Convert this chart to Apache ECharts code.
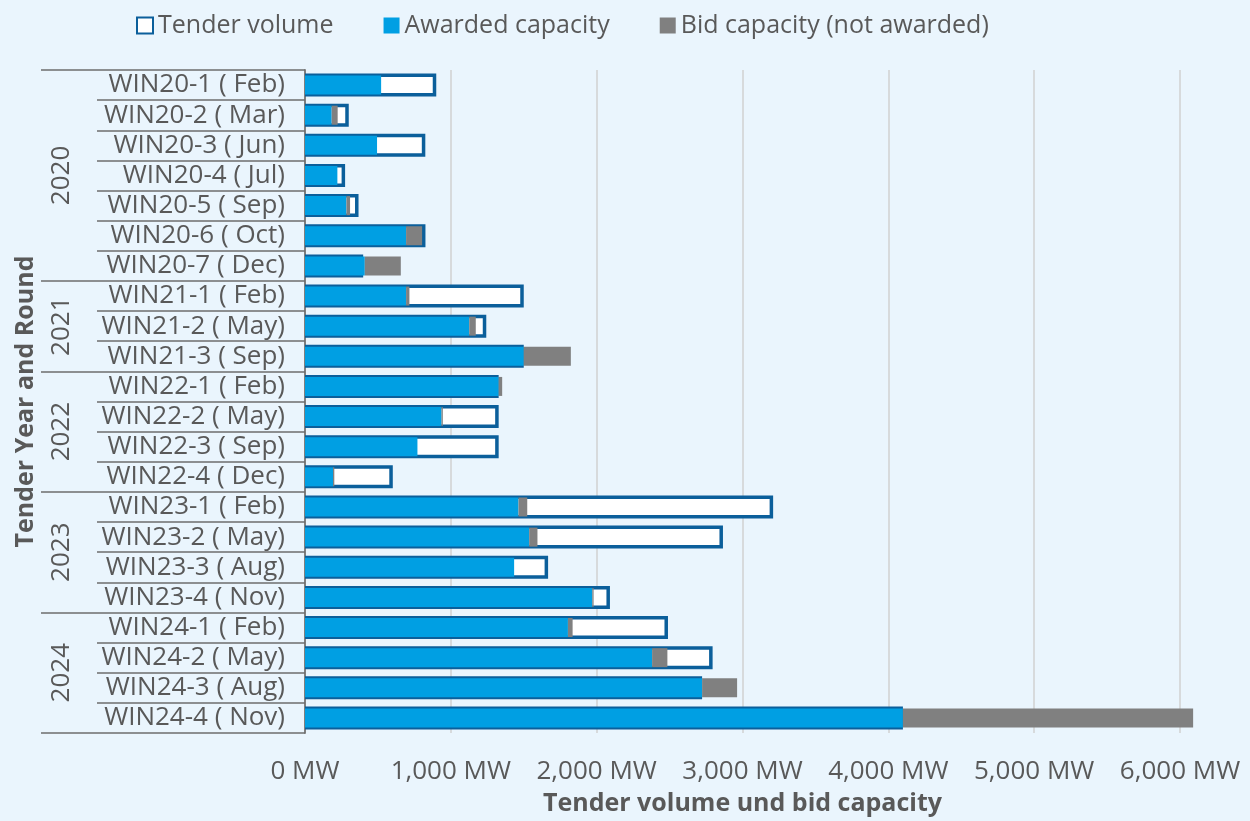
<!DOCTYPE html>
<html>
<head>
<meta charset="utf-8">
<script src="https://cdn.jsdelivr.net/npm/echarts@6/dist/echarts.min.js"></script>
<style>
  html, body { margin: 0; padding: 0; background: #eaf5fd; }
  #chart { width: 1250px; height: 821px; }
</style>
</head>
<body>
<div id="chart"></div>
<script>
// Wind onshore tender rounds, 2020-2024
const rounds = [
  'WIN20-1 ( Feb)', 'WIN20-2 ( Mar)', 'WIN20-3 ( Jun)', 'WIN20-4 ( Jul)', 'WIN20-5 ( Sep)',
  'WIN20-6 ( Oct)', 'WIN20-7 ( Dec)', 'WIN21-1 ( Feb)', 'WIN21-2 ( May)', 'WIN21-3 ( Sep)',
  'WIN22-1 ( Feb)', 'WIN22-2 ( May)', 'WIN22-3 ( Sep)', 'WIN22-4 ( Dec)', 'WIN23-1 ( Feb)',
  'WIN23-2 ( May)', 'WIN23-3 ( Aug)', 'WIN23-4 ( Nov)', 'WIN24-1 ( Feb)', 'WIN24-2 ( May)',
  'WIN24-3 ( Aug)', 'WIN24-4 ( Nov)'
];
// MW
const tenderVolume = [900, 300, 825, 275, 367, 826, 399, 1500, 1243, 1500, 1328, 1328, 1328, 602, 3210, 2866, 1667, 2091, 2489, 2795, 2723, 4100];
const awardedCapacity = [522, 183, 494, 222, 284, 693, 410, 693, 1126, 1500, 1328, 936, 771, 192, 1464, 1537, 1434, 1970, 1803, 2380, 2723, 4100];
const bidNotAwarded = [0, 41, 0, 0, 25, 110, 247, 23, 45, 323, 24, 9, 0, 9, 60, 57, 0, 9, 32, 105, 240, 1990];

// year groups on the category axis
const years = ['2020', '2021', '2022', '2023', '2024'];
const roundsPerYear = [7, 3, 4, 4, 4];

// x axis ticks
const xTicks = [0, 1000, 2000, 3000, 4000, 5000, 6000];

// derived: index where each year starts, and the middle of each year block
const groupStarts = [];
const yearCenters = {};
let acc = 0;
roundsPerYear.forEach((n, i) => {
  groupStarts.push(acc);
  yearCenters[(acc + n / 2).toFixed(1)] = years[i];
  acc += n;
});

const FONT = "'Open Sans', 'Noto Sans', sans-serif";
const TEXT = '#595959';
const BLUE = '#009fe3';
const DARK = '#0b5f9b';
const GREY = '#808080';
const TICK = '#6e6e6e';

const chart = echarts.init(document.getElementById('chart'), null, { renderer: 'canvas' });

chart.setOption({
  animation: false,
  backgroundColor: '#eaf5fd',
  textStyle: { fontFamily: FONT },
  legend: {
    left: 131,
    top: 8,
    itemWidth: 16,
    itemHeight: 16,
    itemGap: 50,
    icon: 'rect',
    textStyle: { fontSize: 25, color: TEXT, fontFamily: FONT },
    data: ['Tender volume', 'Awarded capacity', 'Bid capacity (not awarded)']
  },
  grid: { left: 305, right: 70, top: 70, bottom: 88 },
  xAxis: {
    type: 'value',
    min: xTicks[0],
    max: xTicks[xTicks.length - 1],
    interval: xTicks[1] - xTicks[0],
    axisLine: { show: false },
    axisTick: { show: false },
    splitLine: { show: true, lineStyle: { color: '#d0d0d0', width: 1.5 } },
    axisLabel: {
      fontSize: 26,
      color: TEXT,
      margin: 26,
      formatter: v => v.toLocaleString('en-US') + ' MW'
    },
    name: 'Tender volume und bid capacity',
    nameLocation: 'middle',
    nameGap: 58,
    nameTextStyle: { fontSize: 25, fontWeight: 'bold', color: TEXT, fontFamily: FONT }
  },
  yAxis: [
    {
      // round labels with a separator line per row
      type: 'category',
      data: rounds,
      inverse: true,
      position: 'left',
      axisLine: { show: true, lineStyle: { color: '#7f7f7f', width: 2 } },
      axisTick: { show: true, interval: 0, length: 208, lineStyle: { color: TICK, width: 1.5 } },
      axisLabel: { interval: 0, fontSize: 26, color: TEXT, margin: 20 },
      splitLine: { show: false }
    },
    {
      // longer separators between years
      type: 'category',
      data: rounds,
      inverse: true,
      position: 'left',
      axisLine: { show: false },
      axisTick: {
        show: true,
        length: 264,
        interval: (idx) => groupStarts.indexOf(idx) !== -1,
        lineStyle: { color: TICK, width: 1.5 }
      },
      axisLabel: { show: false },
      splitLine: { show: false }
    },
    {
      // rotated year labels centred on each year block
      type: 'value',
      min: 0,
      max: rounds.length,
      interval: 0.5,
      inverse: true,
      position: 'left',
      axisLine: { show: false },
      axisTick: { show: false },
      splitLine: { show: false },
      axisLabel: {
        rotate: 90,
        fontSize: 26,
        color: TEXT,
        margin: 230,
        showMinLabel: true,
        showMaxLabel: true,
        formatter: v => yearCenters[v.toFixed(1)] || ''
      },
      name: 'Tender Year and Round',
      nameLocation: 'middle',
      nameRotate: 90,
      nameGap: 267,
      nameTextStyle: { fontSize: 25, fontWeight: 'bold', color: TEXT, fontFamily: FONT }
    }
  ],
  series: [
    {
      name: 'Tender volume',
      type: 'bar',
      yAxisIndex: 0,
      barWidth: 23,
      itemStyle: { color: '#ffffff', borderColor: DARK, borderWidth: 3.5 },
      data: tenderVolume
    },
    {
      name: 'Awarded capacity',
      type: 'bar',
      yAxisIndex: 1,
      stack: 'bids',
      barWidth: 19,
      clip: false,
      itemStyle: { color: BLUE },
      data: awardedCapacity
    },
    {
      name: 'Bid capacity (not awarded)',
      type: 'bar',
      yAxisIndex: 1,
      stack: 'bids',
      barWidth: 19,
      clip: false,
      itemStyle: { color: GREY },
      data: bidNotAwarded
    }
  ]
});
</script>
</body>
</html>
